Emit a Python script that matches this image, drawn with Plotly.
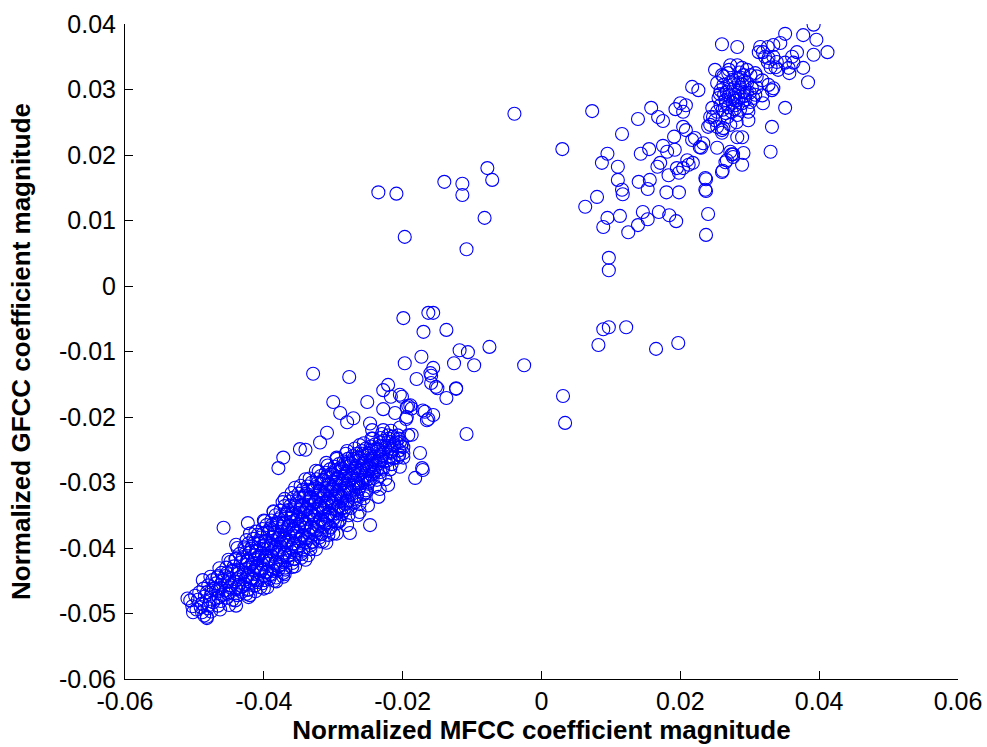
import plotly.graph_objects as go

# Normalized (MFCC, GFCC) coefficient pairs, dense negative-valued group
lower_cluster = [
    (-0.0506, -0.0480), (-0.0503, -0.0489), (-0.0499, -0.0473), (-0.0497, -0.0494),
    (-0.0493, -0.0468), (-0.0495, -0.0479), (-0.0491, -0.0490),
    (-0.0487, -0.0462), (-0.0485, -0.0474), (-0.0489, -0.0485), (-0.0486, -0.0503),
    (-0.0480, -0.0457), (-0.0482, -0.0468), (-0.0478, -0.0481), (-0.0481, -0.0492),
    (-0.0474, -0.0449), (-0.0472, -0.0462), (-0.0476, -0.0471), (-0.0473, -0.0483),
    (-0.0467, -0.0445), (-0.0469, -0.0454), (-0.0465, -0.0466), (-0.0468, -0.0477), (-0.0466, -0.0488),
    (-0.0461, -0.0438), (-0.0459, -0.0450), (-0.0463, -0.0461), (-0.0460, -0.0472), (-0.0462, -0.0481),
    (-0.0454, -0.0430), (-0.0456, -0.0443), (-0.0452, -0.0452), (-0.0455, -0.0465), (-0.0453, -0.0476),
    (-0.0448, -0.0421), (-0.0446, -0.0435), (-0.0450, -0.0446), (-0.0447, -0.0457), (-0.0449, -0.0468), (-0.0445, -0.0479),
    (-0.0441, -0.0417), (-0.0443, -0.0428), (-0.0439, -0.0440), (-0.0442, -0.0451), (-0.0440, -0.0463), (-0.0438, -0.0472),
    (-0.0435, -0.0409), (-0.0433, -0.0422), (-0.0437, -0.0433), (-0.0434, -0.0444), (-0.0436, -0.0456), (-0.0432, -0.0467),
    (-0.0428, -0.0399), (-0.0430, -0.0414), (-0.0426, -0.0426), (-0.0429, -0.0437), (-0.0427, -0.0448), (-0.0431, -0.0459), (-0.0425, -0.0470),
    (-0.0422, -0.0393), (-0.0420, -0.0407), (-0.0424, -0.0419), (-0.0421, -0.0430), (-0.0423, -0.0441), (-0.0419, -0.0452), (-0.0422, -0.0463),
    (-0.0415, -0.0386), (-0.0417, -0.0398), (-0.0413, -0.0411), (-0.0416, -0.0423), (-0.0414, -0.0434), (-0.0418, -0.0446), (-0.0412, -0.0457),
    (-0.0409, -0.0380), (-0.0407, -0.0393), (-0.0411, -0.0404), (-0.0408, -0.0415), (-0.0410, -0.0427), (-0.0406, -0.0438), (-0.0409, -0.0449), (-0.0405, -0.0460),
    (-0.0402, -0.0371), (-0.0404, -0.0384), (-0.0400, -0.0396), (-0.0403, -0.0408), (-0.0401, -0.0419), (-0.0405, -0.0431), (-0.0399, -0.0442), (-0.0402, -0.0454),
    (-0.0396, -0.0365), (-0.0394, -0.0377), (-0.0398, -0.0390), (-0.0395, -0.0401), (-0.0397, -0.0412), (-0.0393, -0.0424), (-0.0396, -0.0436), (-0.0392, -0.0447),
    (-0.0389, -0.0358), (-0.0391, -0.0370), (-0.0387, -0.0383), (-0.0390, -0.0394), (-0.0388, -0.0405), (-0.0392, -0.0417), (-0.0386, -0.0429), (-0.0389, -0.0441),
    (-0.0383, -0.0350), (-0.0381, -0.0362), (-0.0385, -0.0376), (-0.0382, -0.0387), (-0.0384, -0.0398), (-0.0380, -0.0410), (-0.0383, -0.0421), (-0.0379, -0.0433), (-0.0382, -0.0445),
    (-0.0376, -0.0343), (-0.0378, -0.0356), (-0.0374, -0.0368), (-0.0377, -0.0380), (-0.0375, -0.0391), (-0.0379, -0.0403), (-0.0373, -0.0414), (-0.0376, -0.0426), (-0.0372, -0.0438),
    (-0.0370, -0.0336), (-0.0368, -0.0349), (-0.0372, -0.0361), (-0.0369, -0.0373), (-0.0371, -0.0384), (-0.0367, -0.0396), (-0.0370, -0.0407), (-0.0366, -0.0419), (-0.0369, -0.0430),
    (-0.0363, -0.0329), (-0.0365, -0.0342), (-0.0361, -0.0354), (-0.0364, -0.0366), (-0.0362, -0.0377), (-0.0366, -0.0389), (-0.0360, -0.0400), (-0.0363, -0.0411), (-0.0359, -0.0423),
    (-0.0357, -0.0323), (-0.0355, -0.0335), (-0.0359, -0.0347), (-0.0356, -0.0359), (-0.0358, -0.0370), (-0.0354, -0.0382), (-0.0357, -0.0393), (-0.0353, -0.0404), (-0.0356, -0.0416),
    (-0.0350, -0.0317), (-0.0352, -0.0329), (-0.0348, -0.0341), (-0.0351, -0.0352), (-0.0349, -0.0364), (-0.0353, -0.0375), (-0.0347, -0.0386), (-0.0350, -0.0398), (-0.0346, -0.0409),
    (-0.0344, -0.0311), (-0.0342, -0.0323), (-0.0346, -0.0335), (-0.0343, -0.0346), (-0.0345, -0.0357), (-0.0341, -0.0369), (-0.0344, -0.0380), (-0.0340, -0.0391), (-0.0343, -0.0402),
    (-0.0337, -0.0306), (-0.0339, -0.0317), (-0.0335, -0.0329), (-0.0338, -0.0340), (-0.0336, -0.0351), (-0.0340, -0.0362), (-0.0334, -0.0374), (-0.0337, -0.0385), (-0.0333, -0.0396),
    (-0.0331, -0.0300), (-0.0329, -0.0312), (-0.0333, -0.0323), (-0.0330, -0.0334), (-0.0332, -0.0346), (-0.0328, -0.0357), (-0.0331, -0.0368), (-0.0327, -0.0379), (-0.0330, -0.0390),
    (-0.0324, -0.0295), (-0.0326, -0.0307), (-0.0322, -0.0318), (-0.0325, -0.0329), (-0.0323, -0.0340), (-0.0327, -0.0351), (-0.0321, -0.0362), (-0.0324, -0.0373), (-0.0320, -0.0384),
    (-0.0318, -0.0290), (-0.0316, -0.0302), (-0.0320, -0.0313), (-0.0317, -0.0324), (-0.0319, -0.0335), (-0.0315, -0.0346), (-0.0318, -0.0357), (-0.0314, -0.0368), (-0.0317, -0.0379),
    (-0.0311, -0.0285), (-0.0313, -0.0297), (-0.0309, -0.0308), (-0.0312, -0.0319), (-0.0310, -0.0330), (-0.0314, -0.0341), (-0.0308, -0.0352), (-0.0311, -0.0363), (-0.0307, -0.0373),
    (-0.0305, -0.0280), (-0.0303, -0.0292), (-0.0307, -0.0303), (-0.0304, -0.0314), (-0.0306, -0.0325), (-0.0302, -0.0336), (-0.0305, -0.0347), (-0.0301, -0.0358), (-0.0304, -0.0368),
    (-0.0298, -0.0276), (-0.0300, -0.0288), (-0.0296, -0.0299), (-0.0299, -0.0310), (-0.0297, -0.0320), (-0.0301, -0.0331), (-0.0295, -0.0342), (-0.0298, -0.0353), (-0.0294, -0.0362),
    (-0.0292, -0.0272), (-0.0290, -0.0283), (-0.0294, -0.0294), (-0.0291, -0.0305), (-0.0293, -0.0316), (-0.0289, -0.0327), (-0.0292, -0.0337), (-0.0288, -0.0348), (-0.0291, -0.0357),
    (-0.0285, -0.0268), (-0.0287, -0.0279), (-0.0283, -0.0290), (-0.0286, -0.0301), (-0.0284, -0.0312), (-0.0288, -0.0322), (-0.0282, -0.0333), (-0.0285, -0.0343),
    (-0.0279, -0.0264), (-0.0277, -0.0275), (-0.0281, -0.0286), (-0.0278, -0.0297), (-0.0280, -0.0308), (-0.0276, -0.0318), (-0.0279, -0.0329), (-0.0275, -0.0339),
    (-0.0272, -0.0260), (-0.0274, -0.0271), (-0.0270, -0.0282), (-0.0273, -0.0293), (-0.0271, -0.0304), (-0.0275, -0.0314), (-0.0269, -0.0325),
    (-0.0266, -0.0256), (-0.0264, -0.0267), (-0.0268, -0.0278), (-0.0265, -0.0289), (-0.0267, -0.0300), (-0.0263, -0.0310), (-0.0266, -0.0321), (-0.0262, -0.0333),
    (-0.0259, -0.0252), (-0.0261, -0.0263), (-0.0257, -0.0274), (-0.0260, -0.0285), (-0.0258, -0.0296), (-0.0262, -0.0306), (-0.0256, -0.0318),
    (-0.0253, -0.0248), (-0.0251, -0.0259), (-0.0255, -0.0270), (-0.0252, -0.0281), (-0.0254, -0.0292), (-0.0250, -0.0302), (-0.0253, -0.0315),
    (-0.0246, -0.0245), (-0.0248, -0.0256), (-0.0244, -0.0267), (-0.0247, -0.0278), (-0.0245, -0.0288), (-0.0249, -0.0299),
    (-0.0240, -0.0242), (-0.0238, -0.0253), (-0.0242, -0.0264), (-0.0239, -0.0274), (-0.0241, -0.0285), (-0.0237, -0.0296),
    (-0.0233, -0.0239), (-0.0235, -0.0250), (-0.0231, -0.0261), (-0.0234, -0.0271), (-0.0232, -0.0284),
    (-0.0227, -0.0236), (-0.0225, -0.0247), (-0.0229, -0.0258), (-0.0226, -0.0268), (-0.0228, -0.0279),
    (-0.0220, -0.0233), (-0.0222, -0.0244), (-0.0218, -0.0255), (-0.0221, -0.0266),
    (-0.0214, -0.0230), (-0.0212, -0.0241), (-0.0216, -0.0252), (-0.0213, -0.0263),
    (-0.0207, -0.0228), (-0.0209, -0.0239), (-0.0205, -0.0251), (-0.0199, -0.0262),
]

# Further points filling the same group between the ones above
lower_fill = [
    (-0.0477, -0.0444), (-0.0475, -0.0465), (-0.0479, -0.0487), (-0.0476, -0.0497),
    (-0.0464, -0.0431), (-0.0466, -0.0443), (-0.0462, -0.0456), (-0.0465, -0.0475), (-0.0463, -0.0494),
    (-0.0451, -0.0418), (-0.0453, -0.0438), (-0.0449, -0.0460), (-0.0452, -0.0470), (-0.0450, -0.0487),
    (-0.0438, -0.0400), (-0.0440, -0.0416), (-0.0436, -0.0438), (-0.0439, -0.0448), (-0.0437, -0.0460), (-0.0441, -0.0480),
    (-0.0425, -0.0388), (-0.0427, -0.0402), (-0.0423, -0.0420), (-0.0426, -0.0432), (-0.0424, -0.0443), (-0.0428, -0.0455), (-0.0422, -0.0475),
    (-0.0412, -0.0375), (-0.0414, -0.0392), (-0.0410, -0.0405), (-0.0413, -0.0417), (-0.0411, -0.0429), (-0.0415, -0.0440), (-0.0409, -0.0452), (-0.0412, -0.0466),
    (-0.0399, -0.0359), (-0.0401, -0.0378), (-0.0397, -0.0389), (-0.0400, -0.0401), (-0.0398, -0.0414), (-0.0402, -0.0425), (-0.0396, -0.0437), (-0.0399, -0.0449), (-0.0395, -0.0460),
    (-0.0386, -0.0344), (-0.0388, -0.0365), (-0.0384, -0.0377), (-0.0387, -0.0389), (-0.0385, -0.0400), (-0.0389, -0.0412), (-0.0383, -0.0423), (-0.0386, -0.0435), (-0.0382, -0.0451),
    (-0.0373, -0.0330), (-0.0375, -0.0352), (-0.0371, -0.0363), (-0.0374, -0.0375), (-0.0372, -0.0386), (-0.0376, -0.0398), (-0.0370, -0.0410), (-0.0373, -0.0421), (-0.0369, -0.0433), (-0.0372, -0.0444),
    (-0.0360, -0.0316), (-0.0362, -0.0336), (-0.0358, -0.0348), (-0.0361, -0.0360), (-0.0359, -0.0372), (-0.0363, -0.0383), (-0.0357, -0.0394), (-0.0360, -0.0406), (-0.0356, -0.0417), (-0.0359, -0.0429),
    (-0.0347, -0.0305), (-0.0349, -0.0323), (-0.0345, -0.0334), (-0.0348, -0.0346), (-0.0346, -0.0357), (-0.0350, -0.0368), (-0.0344, -0.0380), (-0.0347, -0.0392), (-0.0343, -0.0404), (-0.0346, -0.0415),
    (-0.0334, -0.0294), (-0.0336, -0.0311), (-0.0332, -0.0322), (-0.0335, -0.0334), (-0.0333, -0.0345), (-0.0337, -0.0356), (-0.0331, -0.0368), (-0.0334, -0.0380), (-0.0330, -0.0391), (-0.0333, -0.0402),
    (-0.0321, -0.0283), (-0.0323, -0.0301), (-0.0319, -0.0312), (-0.0322, -0.0323), (-0.0320, -0.0334), (-0.0324, -0.0345), (-0.0318, -0.0356), (-0.0321, -0.0367), (-0.0317, -0.0378), (-0.0320, -0.0390),
    (-0.0308, -0.0274), (-0.0310, -0.0291), (-0.0306, -0.0302), (-0.0309, -0.0313), (-0.0307, -0.0324), (-0.0311, -0.0336), (-0.0305, -0.0347), (-0.0308, -0.0357), (-0.0304, -0.0369), (-0.0307, -0.0380),
    (-0.0295, -0.0264), (-0.0297, -0.0281), (-0.0293, -0.0292), (-0.0296, -0.0303), (-0.0294, -0.0314), (-0.0298, -0.0325), (-0.0292, -0.0336), (-0.0295, -0.0347), (-0.0291, -0.0359),
    (-0.0282, -0.0256), (-0.0284, -0.0272), (-0.0280, -0.0283), (-0.0283, -0.0294), (-0.0281, -0.0305), (-0.0285, -0.0316), (-0.0279, -0.0327), (-0.0282, -0.0338), (-0.0278, -0.0350),
    (-0.0269, -0.0248), (-0.0271, -0.0264), (-0.0267, -0.0275), (-0.0270, -0.0286), (-0.0268, -0.0297), (-0.0272, -0.0308), (-0.0266, -0.0319), (-0.0269, -0.0330),
    (-0.0256, -0.0240), (-0.0258, -0.0256), (-0.0254, -0.0267), (-0.0257, -0.0279), (-0.0255, -0.0290), (-0.0259, -0.0301), (-0.0253, -0.0312), (-0.0256, -0.0324),
    (-0.0243, -0.0233), (-0.0245, -0.0250), (-0.0241, -0.0261), (-0.0244, -0.0272), (-0.0242, -0.0283), (-0.0246, -0.0294), (-0.0240, -0.0306),
    (-0.0230, -0.0226), (-0.0232, -0.0244), (-0.0228, -0.0255), (-0.0231, -0.0266), (-0.0229, -0.0277), (-0.0233, -0.0290),
    (-0.0217, -0.0221), (-0.0219, -0.0238), (-0.0215, -0.0249), (-0.0218, -0.0260), (-0.0216, -0.0272),
    (-0.0204, -0.0216), (-0.0206, -0.0233), (-0.0202, -0.0245), (-0.0205, -0.0258),
    # densest middle stretch
    (-0.0418, -0.0401), (-0.0418, -0.0425), (-0.0416, -0.0447),
    (-0.0405, -0.0389), (-0.0407, -0.0412), (-0.0404, -0.0435),
    (-0.0392, -0.0373), (-0.0390, -0.0397), (-0.0393, -0.0420), (-0.0391, -0.0440),
    (-0.0380, -0.0365), (-0.0378, -0.0384), (-0.0381, -0.0407), (-0.0379, -0.0428),
    (-0.0367, -0.0346), (-0.0365, -0.0368), (-0.0368, -0.0391), (-0.0366, -0.0413),
    (-0.0354, -0.0338), (-0.0352, -0.0355), (-0.0355, -0.0377), (-0.0353, -0.0399),
    (-0.0341, -0.0320), (-0.0339, -0.0341), (-0.0342, -0.0363), (-0.0340, -0.0385),
    (-0.0328, -0.0310), (-0.0326, -0.0329), (-0.0329, -0.0351), (-0.0327, -0.0371),
    (-0.0315, -0.0296), (-0.0313, -0.0316), (-0.0316, -0.0338), (-0.0314, -0.0360),
    (-0.0302, -0.0286), (-0.0300, -0.0306), (-0.0303, -0.0328), (-0.0301, -0.0350),
    (-0.0289, -0.0277), (-0.0287, -0.0297), (-0.0290, -0.0319), (-0.0288, -0.0340),
    (-0.0276, -0.0269), (-0.0274, -0.0289), (-0.0277, -0.0310),
    (-0.0263, -0.0261), (-0.0261, -0.0281), (-0.0264, -0.0302),
    (-0.0250, -0.0255), (-0.0248, -0.0275), (-0.0251, -0.0295),
    (-0.0237, -0.0248), (-0.0235, -0.0268),
    # ragged rim of the group
    (-0.0440, -0.0395), (-0.0420, -0.0378), (-0.0400, -0.0358), (-0.0386, -0.0345),
    (-0.0370, -0.0325), (-0.0355, -0.0308), (-0.0340, -0.0295), (-0.0325, -0.0282),
    (-0.0310, -0.0270), (-0.0295, -0.0262), (-0.0280, -0.0252), (-0.0262, -0.0243),
    (-0.0245, -0.0233),
    (-0.0440, -0.0488), (-0.0420, -0.0472), (-0.0400, -0.0462), (-0.0385, -0.0450),
    (-0.0370, -0.0440), (-0.0355, -0.0428), (-0.0340, -0.0418), (-0.0325, -0.0402),
    (-0.0310, -0.0392), (-0.0295, -0.0378), (-0.0280, -0.0365), (-0.0265, -0.0350),
    (-0.0250, -0.0335), (-0.0235, -0.0322),
    (-0.0458, -0.0369), (-0.0423, -0.0362), (-0.0372, -0.0262), (-0.0379, -0.0278),
    (-0.0348, -0.0249), (-0.0247, -0.0365), (-0.0276, -0.0377), (-0.0510, -0.0477),
    (-0.0502, -0.0498), (-0.0482, -0.0505), (-0.0489, -0.0498), (-0.0482, -0.0507),
    (-0.0488, -0.0449), (-0.0467, -0.0464), (-0.0423, -0.0464), (-0.0336, -0.0411),
    (-0.0262, -0.0345), (-0.0233, -0.0310), (-0.0225, -0.0295), (-0.0207, -0.0262),
    (-0.0218, -0.0280), (-0.0300, -0.0378), (-0.0315, -0.0390),
]

# Points lying between the two groups
between = [
    (-0.0235, 0.0143), (-0.0209, 0.0141), (-0.0197, 0.0075), (-0.0140, 0.0159),
    (-0.0114, 0.0156), (-0.0114, 0.0139), (-0.0108, 0.0056), (-0.0082, 0.0104),
    (-0.0078, 0.0180), (-0.0071, 0.0162), (-0.0039, 0.0263),
    (0.0089, -0.0066), (0.0097, -0.0063), (0.0082, -0.0090), (0.0122, -0.0063),
    (0.0165, -0.0096), (0.0197, -0.0087),
    (-0.0199, -0.0049), (-0.0163, -0.0041), (-0.0156, -0.0041), (-0.0170, -0.0070),
    (-0.0137, -0.0067), (-0.0173, -0.0108), (-0.0197, -0.0118), (-0.0118, -0.0098),
    (-0.0106, -0.0101), (-0.0075, -0.0093), (-0.0126, -0.0118), (-0.0097, -0.0121),
    (-0.0156, -0.0125), (-0.0159, -0.0137), (-0.0180, -0.0142), (-0.0159, -0.0148),
    (-0.0152, -0.0154), (-0.0123, -0.0157), (-0.0137, -0.0171), (-0.0025, -0.0121),
    (0.0031, -0.0168), (0.0034, -0.0209), (-0.0108, -0.0226),
    (-0.0201, -0.0169), (-0.0192, -0.0183), (-0.0187, -0.0187), (-0.0171, -0.0190),
    (-0.0156, -0.0197), (-0.0163, -0.0203), (-0.0194, -0.0200), (-0.0192, -0.0228),
    (-0.0201, -0.0240), (-0.0175, -0.0255), (-0.0199, -0.0255),
    (-0.0329, -0.0134), (-0.0277, -0.0139), (-0.0300, -0.0177), (-0.0251, -0.0177),
    (-0.0228, -0.0159), (-0.0221, -0.0151), (-0.0217, -0.0169), (-0.0204, -0.0166),
    (-0.0228, -0.0188), (-0.0211, -0.0194), (-0.0194, -0.0185), (-0.0189, -0.0182),
    (-0.0195, -0.0203), (-0.0168, -0.0192), (-0.0165, -0.0205), (-0.0160, -0.0133),
    (-0.0150, -0.0156), (-0.0123, -0.0156),
    (-0.0290, -0.0194), (-0.0280, -0.0208), (-0.0271, -0.0202), (-0.0247, -0.0210),
    (-0.0244, -0.0220), (-0.0228, -0.0220), (-0.0232, -0.0232), (-0.0221, -0.0228),
    (-0.0204, -0.0238), (-0.0187, -0.0227), (-0.0199, -0.0246), (-0.0213, -0.0243),
    (-0.0172, -0.0278), (-0.0171, -0.0281), (-0.0182, -0.0293), (-0.0204, -0.0276),
    (-0.0221, -0.0304), (-0.0237, -0.0281), (-0.0340, -0.0250), (-0.0319, -0.0239),
    (-0.0309, -0.0224),
]

# Positive-valued group
upper_cluster = [
    (0.0030, 0.0209), (0.0073, 0.0267), (0.0063, 0.0121), (0.0080, 0.0136), (0.0089, 0.0090),
    (0.0095, 0.0104), (0.0087, 0.0188), (0.0095, 0.0202), (0.0097, 0.0043), (0.0097, 0.0024),
    (0.0110, 0.0182), (0.0110, 0.0162), (0.0116, 0.0147), (0.0117, 0.0140), (0.0113, 0.0107),
    (0.0125, 0.0082), (0.0139, 0.0093), (0.0146, 0.0113), (0.0153, 0.0102), (0.0169, 0.0113),
    (0.0184, 0.0108), (0.0194, 0.0099), (0.0180, 0.0143), (0.0198, 0.0143), (0.0237, 0.0163),
    (0.0237, 0.0145), (0.0240, 0.0110), (0.0237, 0.0078),
    (0.0140, 0.0159), (0.0153, 0.0148), (0.0156, 0.0162), (0.0143, 0.0202), (0.0155, 0.0209),
    (0.0116, 0.0232), (0.0139, 0.0255), (0.0158, 0.0272), (0.0168, 0.0258), (0.0175, 0.0252),
    (0.0167, 0.0182), (0.0171, 0.0188), (0.0175, 0.0214), (0.0181, 0.0205), (0.0183, 0.0169),
    (0.0192, 0.0208), (0.0191, 0.0228), (0.0195, 0.0180), (0.0198, 0.0173), (0.0204, 0.0180),
    (0.0210, 0.0192), (0.0212, 0.0185), (0.0218, 0.0188), (0.0204, 0.0243), (0.0208, 0.0238),
    (0.0193, 0.0270), (0.0200, 0.0279), (0.0208, 0.0276), (0.0204, 0.0266), (0.0217, 0.0223),
    (0.0221, 0.0226), (0.0228, 0.0212), (0.0230, 0.0211), (0.0233, 0.0218), (0.0253, 0.0211),
    (0.0261, 0.0176), (0.0267, 0.0192), (0.0274, 0.0201), (0.0276, 0.0197), (0.0260, 0.0238),
    (0.0243, 0.0246), (0.0247, 0.0258), (0.0217, 0.0304), (0.0226, 0.0299),
    (0.0260, 0.0369), (0.0282, 0.0365), (0.0351, 0.0385), (0.0377, 0.0383), (0.0392, 0.0399),
    (0.0396, 0.0376), (0.0412, 0.0357), (0.0392, 0.0353), (0.0377, 0.0333), (0.0384, 0.0311),
    (0.0351, 0.0272), (0.0332, 0.0243), (0.0330, 0.0205),
    (0.0368, 0.0357), (0.0361, 0.0350), (0.0363, 0.0341), (0.0357, 0.0325), (0.0356, 0.0333),
    (0.0344, 0.0371), (0.0334, 0.0368), (0.0326, 0.0365), (0.0319, 0.0357), (0.0315, 0.0365),
    (0.0313, 0.0357), (0.0322, 0.0350), (0.0327, 0.0348), (0.0334, 0.0350), (0.0339, 0.0342),
    (0.0326, 0.0342), (0.0330, 0.0334), (0.0337, 0.0334), (0.0341, 0.0330), (0.0318, 0.0314),
    (0.0332, 0.0299), (0.0334, 0.0302), (0.0327, 0.0307), (0.0310, 0.0320), (0.0308, 0.0325),
    (0.0308, 0.0292), (0.0319, 0.0279), (0.0351, 0.0341),
    (0.0250, 0.0330), (0.0260, 0.0322), (0.0269, 0.0325), (0.0272, 0.0337), (0.0282, 0.0337),
    (0.0289, 0.0333), (0.0296, 0.0330), (0.0301, 0.0322), (0.0291, 0.0322), (0.0282, 0.0317),
    (0.0272, 0.0311), (0.0262, 0.0307), (0.0258, 0.0299), (0.0267, 0.0296), (0.0277, 0.0302),
    (0.0286, 0.0303), (0.0296, 0.0310), (0.0303, 0.0302), (0.0296, 0.0295), (0.0286, 0.0289),
    (0.0277, 0.0287), (0.0265, 0.0284), (0.0255, 0.0287), (0.0258, 0.0276), (0.0269, 0.0273),
    (0.0279, 0.0276), (0.0289, 0.0279), (0.0301, 0.0281), (0.0305, 0.0287), (0.0274, 0.0266),
    (0.0265, 0.0264), (0.0253, 0.0266), (0.0246, 0.0272), (0.0243, 0.0258), (0.0250, 0.0253),
    (0.0282, 0.0261), (0.0286, 0.0269), (0.0298, 0.0253), (0.0289, 0.0227), (0.0282, 0.0227),
    (0.0260, 0.0234), (0.0253, 0.0243), (0.0262, 0.0241), (0.0272, 0.0246), (0.0240, 0.0243),
    (0.0276, 0.0201), (0.0272, 0.0205), (0.0289, 0.0185), (0.0291, 0.0203), (0.0260, 0.0174),
    (0.0265, 0.0189), (0.0236, 0.0165), (0.0236, 0.0147), (0.0298, 0.0266), (0.0310, 0.0303),
    (0.0318, 0.0291), (0.0262, 0.0320), (0.0253, 0.0310),
    (0.0279, 0.0292), (0.0291, 0.0296), (0.0270, 0.0290), (0.0284, 0.0310), (0.0293, 0.0284),
    (0.0275, 0.0280), (0.0263, 0.0292), (0.0287, 0.0318), (0.0297, 0.0272), (0.0268, 0.0258),
    (0.0281, 0.0250),
    (0.0271, 0.0300), (0.0284, 0.0295), (0.0276, 0.0315), (0.0289, 0.0308), (0.0266, 0.0279),
    (0.0280, 0.0283), (0.0293, 0.0290), (0.0300, 0.0295), (0.0270, 0.0330), (0.0257, 0.0293),
    (0.0292, 0.0313), (0.0278, 0.0270), (0.0285, 0.0326), (0.0261, 0.0269),
]

x_ticks = [-0.06, -0.04, -0.02, 0, 0.02, 0.04, 0.06]
x_tick_labels = ["-0.06", "-0.04", "-0.02", "0", "0.02", "0.04", "0.06"]
y_ticks = [-0.06, -0.05, -0.04, -0.03, -0.02, -0.01, 0, 0.01, 0.02, 0.03, 0.04]
y_tick_labels = ["-0.06", "-0.05", "-0.04", "-0.03", "-0.02", "-0.01", "0",
                 "0.01", "0.02", "0.03", "0.04"]

points = lower_cluster + lower_fill + between + upper_cluster
mfcc = [p[0] for p in points]
gfcc = [p[1] for p in points]

FONT = "Liberation Sans, Arial, Helvetica, sans-serif"

fig = go.Figure(
    go.Scatter(
        x=mfcc,
        y=gfcc,
        mode="markers",
        marker=dict(symbol="circle-open", size=13, color="#0000ff",
                    line=dict(width=1.1, color="#0000ff")),
        hoverinfo="x+y",
    )
)

axis_common = dict(
    showgrid=False,
    zeroline=False,
    showline=True,
    linecolor="black",
    linewidth=1,
    ticks="inside",
    ticklen=8,
    tickwidth=1,
    tickcolor="black",
    tickfont=dict(family=FONT, size=25, color="black"),
    mirror=False,
    automargin=False,
)

fig.update_layout(
    width=987,
    height=747,
    margin=dict(l=125, r=29, t=24, b=68),
    paper_bgcolor="white",
    plot_bgcolor="white",
    showlegend=False,
    xaxis=dict(
        range=[-0.06, 0.06],
        tickvals=x_ticks,
        ticktext=x_tick_labels,
        title=dict(text="Normalized MFCC coefficient magnitude",
                   font=dict(family=FONT, size=26, color="black", weight="bold"),
                   standoff=6),
        **axis_common,
    ),
    yaxis=dict(
        range=[-0.06, 0.04],
        tickvals=y_ticks,
        ticktext=y_tick_labels,
        ticklabelstandoff=3,
        title=dict(text="Normalized GFCC coefficient magnitude",
                   font=dict(family=FONT, size=26, color="black", weight="bold"),
                   standoff=20),
        **axis_common,
    ),
)

fig.write_html("out.html")
